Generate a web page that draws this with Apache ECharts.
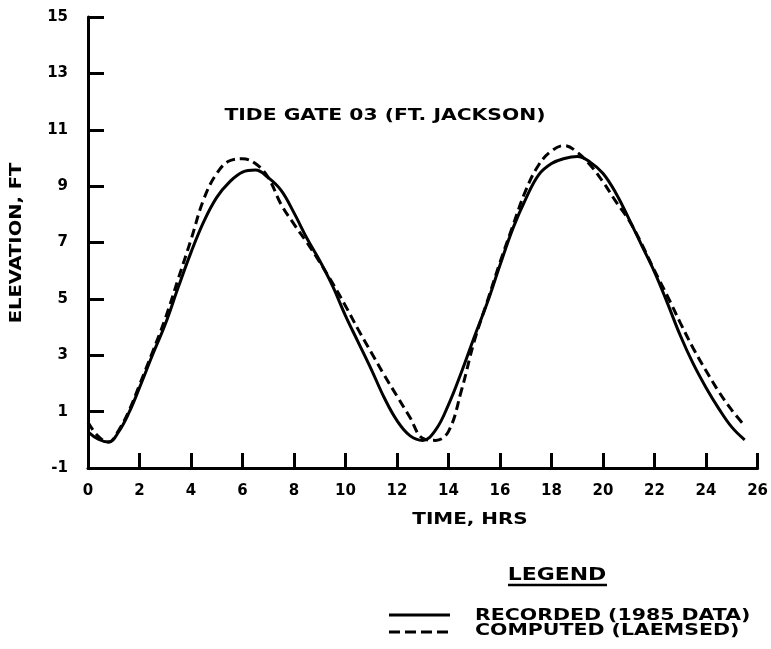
<!DOCTYPE html>
<html>
<head>
<meta charset="utf-8">
<script src="https://cdn.jsdelivr.net/npm/echarts@6/dist/echarts.min.js"></script>
<style>
html,body{margin:0;padding:0;background:#fff;}
#chart{width:771px;height:649px;}
</style>
</head>
<body>
<div id="chart"></div>
<script>
// Time in hours
var hours = [0,0.4,0.8,1.2,1.6,2,2.5,3,3.5,4,4.5,5,5.5,6,6.5,7,7.5,8,8.5,9,9.5,10,10.5,11,11.5,12,12.5,13,13.5,14,14.5,15,15.5,16,16.5,17,17.5,18,18.5,19,19.5,20,20.5,21,21.5,22,22.5,23,23.5,24,24.5,25,25.5];
// Recorded (1985 data), elevation ft
var recorded = [0.28,0.02,-0.08,0.3,0.98,1.85,3.0,4.1,5.4,6.65,7.75,8.6,9.15,9.5,9.57,9.3,8.85,8.05,7.15,6.35,5.45,4.4,3.45,2.5,1.5,0.68,0.15,-0.02,0.35,1.25,2.4,3.65,4.85,6.2,7.5,8.55,9.4,9.8,9.98,10.05,9.85,9.45,8.75,7.85,6.9,5.95,4.85,3.7,2.7,1.85,1.1,0.45,0.0];
// Computed (LAEMSED), elevation ft
var computed = [0.62,0.12,-0.08,0.35,1.05,1.95,3.1,4.3,5.7,7.1,8.55,9.45,9.9,9.97,9.8,9.3,8.35,7.65,7.0,6.3,5.55,4.75,3.9,3.1,2.3,1.55,0.8,0.05,-0.02,0.3,1.75,3.5,4.9,6.3,7.6,8.85,9.75,10.25,10.44,10.2,9.75,9.15,8.45,7.8,6.95,6.0,5.1,4.15,3.25,2.45,1.7,1.05,0.5];
// Tick labels
var xTicks = [0,2,4,6,8,10,12,14,16,18,20,22,24,26];
var yTicks = [-1,1,3,5,7,9,11,13,15];

var titleText = 'TIDE GATE 03 (FT. JACKSON)';
var xName = 'TIME, HRS';
var yName = 'ELEVATION, FT';
var legendTitle = 'LEGEND';
var seriesNames = ['RECORDED (1985 DATA)', 'COMPUTED (LAEMSED)'];

function pairs(xs, ys){ return xs.map(function(x,i){ return [x, ys[i]]; }); }

var FONT = 'DejaVu Sans';
function txt(str, x, y, size, sx, align, rot){
  return {type:'text', x:x, y:y, scaleX:sx, scaleY:1, rotation:rot||0, silent:true,
    style:{text:str, fontFamily:FONT, fontWeight:'bold', fontSize:size, fill:'#000',
      textAlign:align||'center', textVerticalAlign:'middle'}};
}
var chart = echarts.init(document.getElementById('chart'), null, {renderer:'canvas'});
chart.setOption({
  backgroundColor:'#ffffff',
  animation:false,
  grid:{left:88, right:13, top:17, bottom:181, containLabel:false},
  xAxis:{
    type:'value', min:0, max:26,
    axisLine:{onZero:false, lineStyle:{color:'#000', width:3}},
    axisTick:{inside:true, length:15, customValues:xTicks, lineStyle:{color:'#000', width:3}},
    axisLabel:{customValues:xTicks, margin:16, fontFamily:FONT, fontWeight:'bold', fontSize:15, color:'#000'},
    splitLine:{show:false}
  },
  yAxis:{
    type:'value', min:-1, max:15,
    axisLine:{onZero:false, lineStyle:{color:'#000', width:3}},
    axisTick:{inside:true, length:16, customValues:yTicks, lineStyle:{color:'#000', width:3}},
    axisLabel:{customValues:yTicks, margin:20, fontFamily:FONT, fontWeight:'bold', fontSize:15, color:'#000'},
    splitLine:{show:false}
  },
  graphic:[
    txt(titleText, 385, 116, 16, 1.27),
    txt(yName, 17, 243, 15, 1.3, 'center', Math.PI/2),
    txt(xName, 470, 520, 15, 1.33),
    txt(legendTitle, 557, 575, 18, 1.22),
    {type:'line', silent:true, shape:{x1:508, y1:585, x2:607, y2:585}, style:{stroke:'#000', lineWidth:2.5}},
    {type:'line', silent:true, shape:{x1:389, y1:615, x2:450, y2:615}, style:{stroke:'#000', lineWidth:3}},
    {type:'line', silent:true, shape:{x1:389, y1:632, x2:451, y2:632}, style:{stroke:'#000', lineWidth:3, lineDash:[11,5]}},
    txt(seriesNames[0], 475, 616, 16, 1.28, 'left'),
    txt(seriesNames[1], 475, 631, 16, 1.28, 'left')
  ],
  series:[
    {name:seriesNames[0], type:'line', data:pairs(hours, recorded), smooth:0.4, showSymbol:false, symbol:'none',
     lineStyle:{color:'#000', width:3, type:'solid'}, itemStyle:{color:'#000'}},
    {name:seriesNames[1], type:'line', data:pairs(hours, computed), smooth:0.4, showSymbol:false, symbol:'none',
     lineStyle:{color:'#000', width:3, type:[9,5]}, itemStyle:{color:'#000'}}
  ]
});
</script>
</body>
</html>
